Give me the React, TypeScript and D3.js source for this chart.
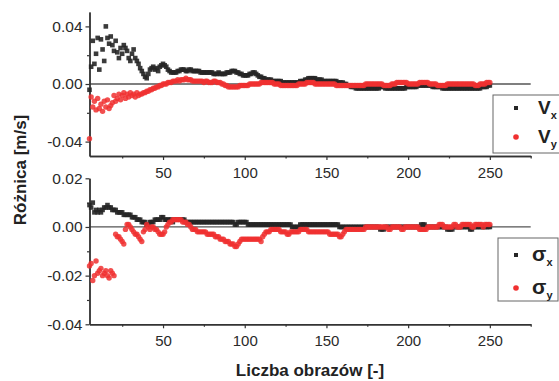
import React, { useEffect, useRef } from 'react';
import * as d3 from 'd3';

const firstFrame = 5;

// differences, in units of 0.001 m/s, one value per frame from firstFrame to 250
const vxDiff = [
  -4, 12, 30, 14, 21, 32, 10, 31, 24, 16,
  40, 32, 28, 33, 27, 23, 30, 22, 18, 25,
  21, 27, 25, 23, 18, 16, 21, 24, 18, 16,
  14, 11, 9, 7, 5, 4, 7, 10, 11, 12,
  10, 11, 9, 12, 13, 14, 13, 12, 10, 9,
  8, 8, 8, 8, 9, 9, 10, 10, 10, 9,
  9, 10, 10, 9, 9, 9, 9, 9, 8, 8,
  8, 8, 8, 8, 8, 8, 7, 7, 7, 8,
  7, 7, 7, 7, 8, 8, 8, 9, 9, 9,
  8, 8, 7, 7, 6, 6, 6, 6, 7, 7,
  8, 8, 7, 6, 5, 5, 4, 4, 3, 3,
  3, 3, 2, 2, 2, 2, 2, 2, 1, 1,
  1, 1, 1, 1, 1, 1, 1, 1, 1, 2,
  2, 2, 3, 3, 4, 4, 4, 4, 4, 3,
  3, 3, 3, 2, 2, 2, 2, 2, 2, 2,
  2, 2, 1, 1, 1, 1, 0, 0, -1, -1,
  -2, -2, -2, -3, -3, -3, -3, -3, -3, -3,
  -3, -3, -3, -3, -3, -3, -3, -3, -2, -2,
  -2, -3, -3, -3, -3, -3, -3, -3, -3, -3,
  -3, -3, -3, -3, -2, -2, -2, -2, -2, -2,
  -2, -1, -1, -1, -1, -1, -1, -1, -1, -1,
  -2, -2, -2, -2, -2, -2, -3, -3, -3, -3,
  -3, -3, -3, -3, -3, -3, -3, -3, -3, -3,
  -3, -3, -3, -3, -3, -3, -3, -3, -3, -3,
  -2, -2, -2, -2, -1, -1,
];

const vyDiff = [
  -38, -9, -16, -12, -18, -10, -17, -14, -19, -12,
  -16, -11, -17, -15, -13, -8, -12, -10, -7, -11,
  -8, -6, -10, -7, -9, -6, -8, -7, -9, -6,
  -8, -7, -7, -6, -6, -5, -5, -4, -4, -3,
  -3, -2, -2, -1, -1, 0, 0, 0, 1, 1,
  1, 2, 2, 2, 3, 2, 3, 3, 3, 4,
  3, 3, 3, 2, 2, 2, 2, 2, 2, 2,
  1, 2, 2, 1, 1, 1, 2, 2, 1, 1,
  1, 0, 0, -1, -1, -2, -2, -2, -2, -2,
  -2, -2, -1, -1, -1, -1, -1, -1, 0, 0,
  0, 0, 0, 0, 0, 1, 1, 1, 1, 1,
  1, 1, 1, 0, 0, 0, 0, -1, -1, -1,
  -1, -1, -1, -1, -1, -1, -1, -1, 0, 0,
  0, 0, 0, 1, 1, 1, 1, 1, 0, 0,
  0, 0, 0, 0, 0, 0, 0, 0, 0, 0,
  0, -1, -1, -1, -1, -1, -1, -1, -1, -1,
  -1, -1, -1, -1, -1, -1, -1, -1, -1, 0,
  0, 0, 0, 0, 0, 0, 0, 0, 0, 0,
  -1, -1, -1, -1, -1, 0, 0, 0, 1, 1,
  1, 1, 1, 1, 1, 0, 0, 0, 0, 0,
  0, 0, 1, 1, 1, 1, 1, 1, 0, 0,
  0, 0, 0, -1, -1, -1, -1, -1, -1, 0,
  0, 0, 0, 0, 0, 0, 0, 0, 0, 0,
  0, 0, 0, 0, 0, 0, -1, -1, -1, 0,
  0, 0, 0, 1, 1, 1,
];

const sxDiff = [
  9, 8, 10, 6, 7, 6, 7, 6, 7, 8,
  8, 9, 8, 8, 7, 7, 7, 6, 6, 6,
  6, 5, 5, 5, 5, 5, 4, 4, 4, 3,
  3, 3, 2, 2, 2, 1, 1, 2, 2, 2,
  3, 3, 3, 3, 4, 4, 3, 3, 3, 3,
  3, 2, 3, 3, 3, 3, 3, 3, 3, 2,
  2, 2, 2, 2, 2, 2, 2, 2, 2, 2,
  2, 2, 2, 2, 2, 2, 2, 2, 2, 2,
  2, 2, 2, 2, 2, 2, 2, 2, 2, 1,
  1, 2, 2, 2, 2, 2, 2, 1, 1, 1,
  1, 1, 1, 1, 1, 1, 1, 1, 1, 1,
  1, 1, 1, 1, 1, 1, 1, 1, 1, 1,
  1, 1, 1, 1, 0, 0, 0, 0, 0, 1,
  1, 1, 1, 1, 1, 1, 1, 1, 1, 1,
  1, 1, 1, 1, 1, 1, 1, 1, 1, 1,
  1, 1, 1, 0, 0, 0, 0, 0, 0, 0,
  0, 0, 0, 0, 0, 0, 0, 0, 0, 0,
  0, 0, 0, 0, 0, 0, 0, 0, -1, -1,
  -1, 0, 0, 0, 0, 0, 0, 0, 0, 0,
  0, 0, 0, 0, 0, 0, 0, 0, 0, 0,
  0, 0, 0, 1, 1, 1, 0, 0, 0, 0,
  0, 0, 0, 0, 0, 0, 0, 0, 0, -1,
  -1, -1, -1, 0, 0, 0, 0, 0, 0, 0,
  0, 0, 0, -1, -1, 0, 0, 0, 0, 0,
  0, 0, 0, 0, 0, 0,
];

const syDiff = [
  -16, -15, -22, -20, -14, -19, -18, -17, -20, -19,
  -18, -20, -21, -18, -19, -20, -3, -4, -4, -5,
  -6, -7, -1, 1, 1, 0, -1, -2, -3, -3,
  -4, -5, -6, -2, -1, 1, 0, -1, 0, 0,
  -1, -1, -2, -3, -3, -3, -2, 0, 1, 2,
  2, 3, 3, 3, 3, 3, 3, 2, 2, 2,
  1, 1, 0, -1, -1, -1, -2, -2, -2, -2,
  -2, -2, -3, -3, -3, -3, -3, -4, -4, -4,
  -5, -5, -5, -6, -6, -6, -7, -7, -7, -8,
  -8, -7, -6, -5, -5, -5, -5, -5, -5, -5,
  -5, -5, -5, -5, -5, -6, -4, -3, -2, -2,
  -2, -1, -1, -1, -1, -1, -1, -2, -2, -2,
  -2, -3, -3, -2, -2, -2, -2, -2, -2, -1,
  -1, -1, -1, -1, -2, -2, -2, -2, -2, -2,
  -2, -2, -2, -2, -2, -2, -2, -3, -3, -3,
  -3, -3, -3, -4, -4, -3, -2, -1, -1, -1,
  -1, -1, -1, -1, -1, -1, -1, -1, -1, 0,
  0, 0, 0, 0, 0, 0, 0, 0, 0, 0,
  0, 0, 0, -1, -1, 0, 0, 0, 0, 0,
  0, -1, -1, 0, 0, 0, 0, 0, 0, 0,
  0, 0, -1, -1, -1, -1, -1, 0, 0, 0,
  0, 0, 0, 0, 1, 1, 1, 0, 0, 0,
  0, 0, 0, 1, 1, 0, 0, 0, 1, 1,
  1, 1, 1, 1, 0, 0, 1, 1, 1, 1,
  1, 0, 1, 1, 1, 1,
];

const xMajor = [50, 100, 150, 200, 250];
const xMinor = [25, 75, 125, 175, 225, 275];
const topMajor = [-0.04, 0, 0.04];
const topMinor = [-0.02, 0.02];
const bottomMajor = [-0.04, -0.02, 0, 0.02];
const bottomMinor = [-0.03, -0.01, 0.01];

export default function App() {
  const svgRef = useRef<SVGSVGElement>(null);

  useEffect(() => {
    const svg = d3.select(svgRef.current);
    svg.selectAll('*').remove();

    const font = '"Liberation Sans", Arial, sans-serif';
    const axisColor = '#333';
    const black = '#262626';
    const red = '#f03030';

    const x = d3.scaleLinear().domain([5, 275]).range([89.5, 530.7]);

    const panels = [
      {
        domain: [-0.05, 0.05], range: [156, 12], major: topMajor, minor: topMinor,
        a: vxDiff, b: vyDiff, sym: 'V', symSize: 19,
        box: [493, 95, 80, 58], rowA: 108, rowB: 137, textX: 538,
      },
      {
        domain: [-0.04, 0.02], range: [324.3, 178.3], major: bottomMajor, minor: bottomMinor,
        a: sxDiff, b: syDiff, sym: 'σ', symSize: 21,
        box: [498, 238, 60, 63], rowA: 255, rowB: 288, textX: 532,
      },
    ];

    panels.forEach(p => {
      const y = d3.scaleLinear().domain(p.domain).range(p.range);
      const g = svg.append('g');

      // zero line
      g.append('line')
        .attr('x1', x(5)).attr('x2', x(275))
        .attr('y1', y(0)).attr('y2', y(0))
        .attr('stroke', '#555').attr('stroke-width', 1.3);

      const yAxis = g.append('g')
        .attr('transform', `translate(${x(5)},0)`)
        .call(d3.axisLeft(y).tickValues(p.major).tickSize(4).tickSizeOuter(0).tickPadding(3)
          .tickFormat(d => (d as number).toFixed(2)));
      g.append('g')
        .attr('transform', `translate(${x(5)},0)`)
        .call(d3.axisLeft(y).tickValues(p.minor).tickSize(2.5).tickSizeOuter(0).tickFormat(() => ''));

      const xAxis = g.append('g')
        .attr('transform', `translate(0,${p.range[0]})`)
        .call(d3.axisBottom(x).tickValues(xMajor).tickSize(4).tickSizeOuter(0).tickPadding(7)
          .tickFormat(d3.format('d')));
      g.append('g')
        .attr('transform', `translate(0,${p.range[0]})`)
        .call(d3.axisBottom(x).tickValues(xMinor).tickSize(2.5).tickSizeOuter(0).tickFormat(() => ''));

      g.selectAll('.domain').attr('stroke', axisColor).attr('stroke-width', 1.4);
      g.selectAll('.tick line').attr('stroke', axisColor).attr('stroke-width', 1.2);
      [yAxis, xAxis].forEach(ax => ax.selectAll('text')
        .attr('fill', '#2a2a2a')
        .style('font-family', font)
        .style('font-size', ax === yAxis ? '15.5px' : '15px'));

      const size = 4.6;
      g.append('g').selectAll('rect')
        .data(p.a)
        .join('rect')
        .attr('x', (d, i) => x(firstFrame + i) - size / 2)
        .attr('y', d => y(d / 1000) - size / 2)
        .attr('width', size).attr('height', size)
        .attr('fill', black).attr('opacity', 0.9);

      g.append('g').selectAll('circle')
        .data(p.b)
        .join('circle')
        .attr('cx', (d, i) => x(firstFrame + i))
        .attr('cy', d => y(d / 1000))
        .attr('r', 2.7)
        .attr('fill', red).attr('opacity', 0.85);

      // legend
      const [bx, by, bw, bh] = p.box;
      g.append('rect')
        .attr('x', bx).attr('y', by).attr('width', bw).attr('height', bh)
        .attr('fill', '#fff').attr('stroke', '#666').attr('stroke-width', 1);
      g.append('rect')
        .attr('x', 516 - 2).attr('y', p.rowA - 2).attr('width', 4).attr('height', 4)
        .attr('fill', black);
      g.append('circle')
        .attr('cx', 516).attr('cy', p.rowB).attr('r', 2.8).attr('fill', red);
      [['x', p.rowA], ['y', p.rowB]].forEach(([sub, row]) => {
        const t = g.append('text')
          .attr('x', p.textX).attr('y', (row as number) + 6)
          .attr('fill', '#222')
          .style('font-family', font).style('font-weight', 'bold')
          .style('font-size', `${p.symSize}px`)
          .text(p.sym);
        t.append('tspan')
          .attr('dy', 5).style('font-size', '11px')
          .text(sub as string);
      });
    });

    svg.append('text')
      .attr('x', 310).attr('y', 376)
      .attr('text-anchor', 'middle')
      .attr('fill', '#222')
      .style('font-family', font).style('font-weight', 'bold').style('font-size', '17px')
      .text('Liczba obrazów [-]');

    svg.append('text')
      .attr('transform', 'rotate(-90)')
      .attr('x', -170).attr('y', 26)
      .attr('text-anchor', 'middle')
      .attr('fill', '#222')
      .style('font-family', font).style('font-weight', 'bold').style('font-size', '17px')
      .text('Różnica [m/s]');
  }, []);

  return (
    <svg ref={svgRef} width={559} height={381}
      style={{ position: 'absolute', left: 0, top: 0, background: '#fff' }} />
  );
}
